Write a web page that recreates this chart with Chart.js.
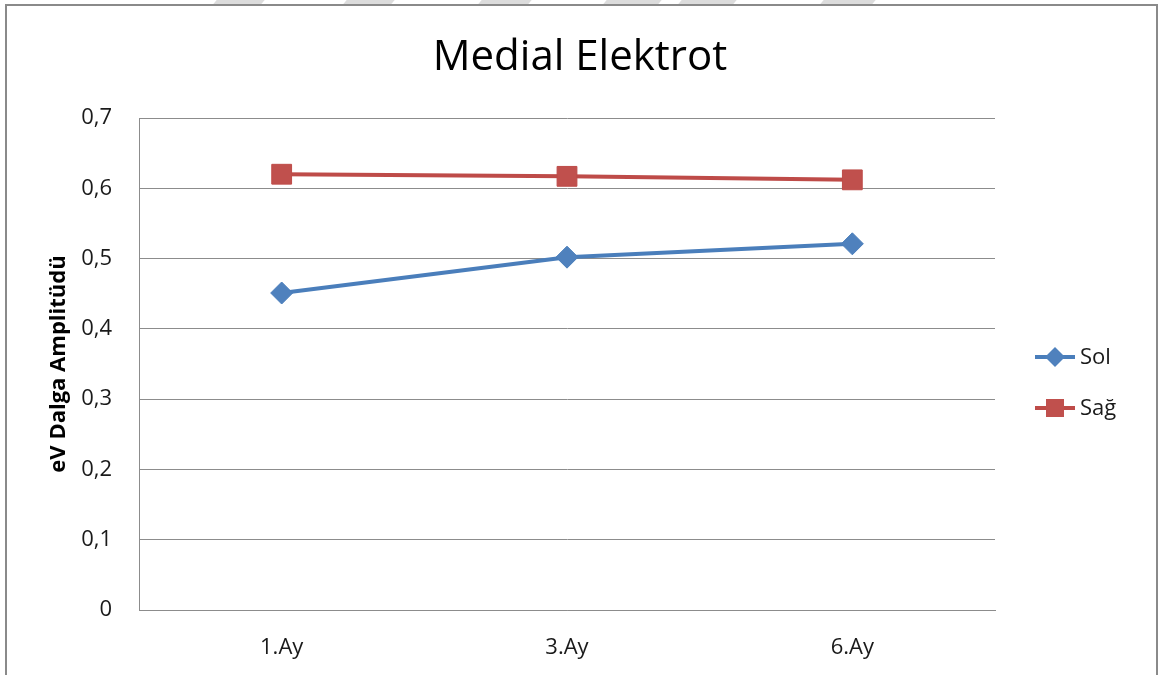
<!DOCTYPE html>
<html>
<head>
<meta charset="utf-8">
<script src="https://cdn.jsdelivr.net/npm/chart.js@4/dist/chart.umd.min.js"></script>
<style>
  html, body { margin: 0; padding: 0; background: #fff; overflow: hidden; }
  #wrap { position: relative; width: 1160px; height: 675px; }
  #chart { position: absolute; left: 0; top: 0; }
  #frame { position: absolute; left: 5px; top: 4px; width: 1149px; height: 700px;
           border: 2px solid #8a8a8a; pointer-events: none; }
  .mark { position: absolute; top: 0; height: 4px; background: #dcdcdc; transform: skewX(-40deg); }
</style>
</head>
<body>
<div id="wrap">
  <div class="mark" style="left:215px;width:48px"></div>
  <div class="mark" style="left:345px;width:48px"></div>
  <div class="mark" style="left:480px;width:50px"></div>
  <div class="mark" style="left:605px;width:55px"></div>
  <div class="mark" style="left:680px;width:55px"></div>
  <div class="mark" style="left:822px;width:52px"></div>
  <canvas id="chart" width="1160" height="675"></canvas>
  <div id="frame"></div>
</div>
<script>
const categories = ['1.Ay', '3.Ay', '6.Ay'];
const solValues = [0.451, 0.502, 0.521];
const sagValues = [0.620, 0.617, 0.612];
const yTicks = [0, 0.1, 0.2, 0.3, 0.4, 0.5, 0.6, 0.7];

const FONT = "'Open Sans', 'Liberation Sans', sans-serif";
const GRID = '#8c8c8c';
const TITLE = 'Medial Elektrot';

// title centred on the whole picture + legend on the right (line with marker)
const titleAndLegend = {
  id: 'titleAndLegend',
  afterDraw(chart) {
    const ctx = chart.ctx;
    const area = chart.chartArea;

    ctx.save();
    ctx.fillStyle = '#000';
    ctx.font = '42px ' + FONT;
    ctx.textAlign = 'center';
    ctx.textBaseline = 'middle';
    ctx.fillText(TITLE, chart.width / 2, 58);
    ctx.restore();

    const mid = (area.top + area.bottom) / 2;
    chart.data.datasets.forEach((ds, i) => {
      const y = mid - 7 + i * 51;
      const x0 = area.right + 40;
      ctx.save();
      ctx.strokeStyle = ds.borderColor;
      ctx.lineWidth = 4;
      ctx.beginPath();
      ctx.moveTo(x0, y);
      ctx.lineTo(x0 + 40, y);
      ctx.stroke();
      ctx.fillStyle = ds.pointBackgroundColor;
      ctx.beginPath();
      if (ds.pointStyle === 'rect') {
        ctx.rect(x0 + 11, y - 9, 18, 18);
      } else {
        ctx.moveTo(x0 + 20, y - 10);
        ctx.lineTo(x0 + 30, y);
        ctx.lineTo(x0 + 20, y + 10);
        ctx.lineTo(x0 + 10, y);
        ctx.closePath();
      }
      ctx.fill();
      ctx.fillStyle = '#1a1a1a';
      ctx.font = '22px ' + FONT;
      ctx.textBaseline = 'middle';
      ctx.textAlign = 'left';
      ctx.fillText(ds.label, x0 + 45, y + 1);
      ctx.restore();
    });
  }
};

new Chart(document.getElementById('chart'), {
  type: 'line',
  data: {
    labels: categories,
    datasets: [
      {
        label: 'Sol',
        data: solValues,
        borderColor: '#4a7ebb',
        backgroundColor: '#4a7ebb',
        pointBackgroundColor: '#4f81bd',
        pointBorderColor: '#4a7ebb',
        borderWidth: 4,
        pointStyle: 'rectRot',
        pointRadius: 11,
        pointBorderWidth: 1,
        tension: 0
      },
      {
        label: 'Sağ',
        data: sagValues,
        borderColor: '#be4b48',
        backgroundColor: '#be4b48',
        pointBackgroundColor: '#c0504d',
        pointBorderColor: '#be4b48',
        borderWidth: 4,
        pointStyle: 'rect',
        pointRadius: 14,
        pointBorderWidth: 1,
        tension: 0
      }
    ]
  },
  options: {
    responsive: false,
    animation: false,
    layout: { padding: { left: 0, right: 165, top: 118, bottom: 0 } },
    plugins: {
      legend: { display: false },
      tooltip: { enabled: false },
      title: { display: false }
    },
    scales: {
      x: {
        offset: true,
        grid: { display: false, drawTicks: false },
        border: { display: true, color: GRID, width: 1 },
        ticks: {
          color: '#1a1a1a',
          font: { family: FONT, size: 22 },
          padding: 25
        },
        afterFit(scale) { scale.height = 65; }
      },
      y: {
        min: 0,
        max: 0.7,
        afterBuildTicks(scale) { scale.ticks = yTicks.map(v => ({ value: v })); },
        grid: { color: GRID, lineWidth: 1, drawTicks: false },
        border: { display: true, color: GRID, width: 1 },
        ticks: {
          color: '#1a1a1a',
          font: { family: FONT, size: 22 },
          padding: 27,
          callback: v => String(Math.round(v * 10) / 10).replace('.', ',')
        },
        title: {
          display: true,
          text: 'eV Dalga Amplitüdü',
          color: '#000',
          font: { family: FONT, size: 22, weight: 'bold' },
          padding: { top: 46, bottom: 0 }
        },
        afterFit(scale) { scale.width = 139; }
      }
    }
  },
  plugins: [titleAndLegend]
});
</script>
</body>
</html>
